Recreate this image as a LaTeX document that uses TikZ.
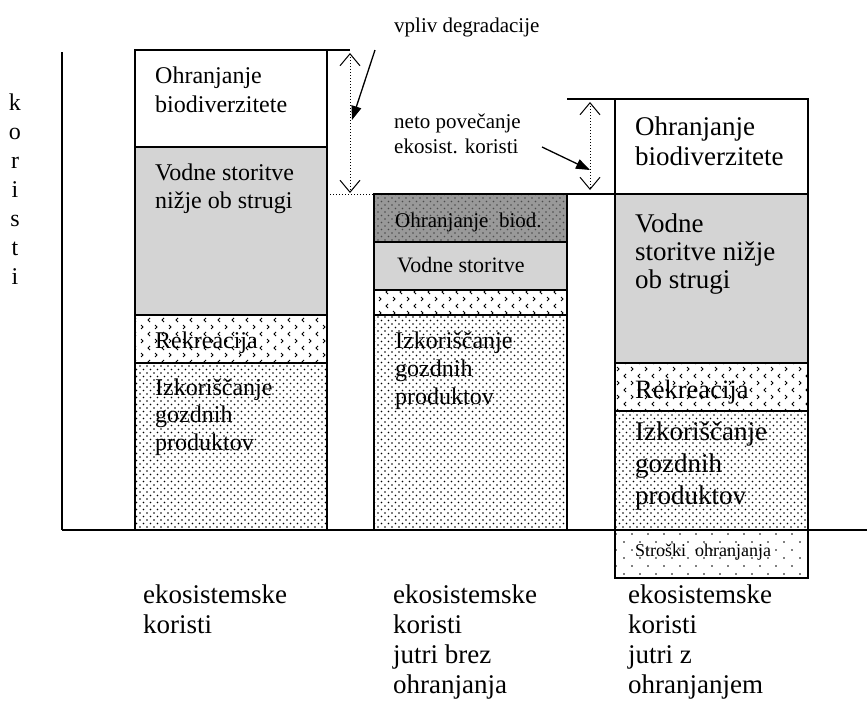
\documentclass[tikz,border=0pt]{standalone}
\usepackage{fontspec}
\setmainfont{Liberation Serif}
\usepackage{tikz}
\usetikzlibrary{arrows.meta,patterns}

\pgfdeclarepatternformonly{gozdpike}{\pgfqpoint{-1pt}{-1pt}}{\pgfqpoint{8pt}{8pt}}{\pgfqpoint{7pt}{7pt}}%
{\pgfpathcircle{\pgfqpoint{0pt}{0pt}}{0.8pt}\pgfpathcircle{\pgfqpoint{3.5pt}{3.5pt}}{0.8pt}\pgfusepath{fill}}
\pgfdeclarepatternformonly{redkepike}{\pgfqpoint{-1pt}{-1pt}}{\pgfqpoint{17pt}{17pt}}{\pgfqpoint{16pt}{16pt}}%
{\pgfpathcircle{\pgfqpoint{0pt}{0pt}}{0.8pt}\pgfpathcircle{\pgfqpoint{8pt}{8pt}}{0.8pt}\pgfusepath{fill}}
\pgfdeclarepatternformonly{rekznaki}{\pgfqpoint{-1pt}{-1pt}}{\pgfqpoint{15pt}{15pt}}{\pgfqpoint{14pt}{14pt}}%
{\pgfsetlinewidth{0.9pt}%
\pgfpathmoveto{\pgfqpoint{1pt}{13pt}}\pgfpathlineto{\pgfqpoint{3pt}{11pt}}\pgfpathlineto{\pgfqpoint{1pt}{9pt}}%
\pgfpathmoveto{\pgfqpoint{10pt}{6pt}}\pgfpathlineto{\pgfqpoint{8pt}{4pt}}\pgfpathlineto{\pgfqpoint{10pt}{2pt}}%
\pgfusepath{stroke}}

\begin{document}
\begin{tikzpicture}[x=1pt, y=-1pt,
  celica/.style={draw, line width=1.5pt},
  sivo/.style={celica, fill=black!17},
  temno/.style={celica, preaction={fill=black!40}, pattern=gozdpike, pattern color=black!70},
  pike/.style={celica, pattern=gozdpike},
  znaki/.style={celica, pattern=rekznaki},
  redko/.style={celica, pattern=redkepike},
  besedilo/.style={anchor=base west, inner sep=0pt, align=left, font=\fontsize{24}{28}\selectfont},
  vecje/.style={besedilo, font=\fontsize{27}{30}\selectfont},
  opis/.style={besedilo, font=\fontsize{21}{25}\selectfont},
  dvojna/.style={dotted, line width=1pt, {Straight Barb[length=12pt,width=20pt,line width=1pt]}-{Straight Barb[length=12pt,width=20pt,line width=1pt]}},
  kazalec/.style={line width=1.3pt, -{Triangle[length=14pt,width=10pt]}}]
\useasboundingbox (0,0) rectangle (867,702);

% osi
\draw [line width=1.5pt] (62,52) -- (62,530);
\draw [line width=1.5pt] (62,530) -- (867,530);
\foreach \crka [count=\i] in {k,o,r,i,s,t,i}
  \node [besedilo, anchor=base] (crka\i) at (15,81+29*\i) {\crka};

% danes (base = zadnja vrstica)
\draw [celica] (135,50) rectangle (327,147);
\draw [sivo] (135,147) rectangle (327,315);
\draw [znaki] (135,315) rectangle (327,363);
\draw [pike] (135,363) rectangle (327,530);
\draw [line width=1.5pt] (327,50) -- (350,50);
\node [besedilo, font=\fontsize{24}{29}\selectfont] (bio1) at (155,112) {Ohranjanje\\biodiverzitete};
\node [besedilo] (vod1) at (155,208) {Vodne storitve\\nižje ob strugi};
\node [besedilo] (rek1) at (155,348) {Rekreacija};
\node [besedilo, font=\fontsize{24}{27.5}\selectfont] (izk1) at (155,450) {Izkoriščanje\\gozdnih\\produktov};

% jutri brez ohranjanja
\draw [temno] (374,194) rectangle (567,242);
\draw [sivo] (374,242) rectangle (567,290);
\draw [znaki] (374,290) rectangle (567,315);
\draw [pike] (374,315) rectangle (567,530);
\draw [dotted, line width=1pt] (327,194) -- (374,194);
\node [opis] (bio2) at (395,227) {Ohranjanje\ \ biod.};
\node [besedilo, font=\fontsize{22}{26}\selectfont] (vod2) at (397,272) {Vodne storitve};
\node [besedilo] (izk2) at (395,404) {Izkoriščanje\\gozdnih\\produktov};

% jutri z ohranjanjem
\draw [celica] (615,99) rectangle (808,194);
\draw [sivo] (615,194) rectangle (808,363);
\draw [znaki] (615,363) rectangle (808,411);
\draw [pike] (615,411) rectangle (808,530);
\draw [redko] (615,530) rectangle (808,578);
\draw [line width=1.5pt] (567,99) -- (615,99);
\draw [line width=1.5pt] (567,194) -- (615,194);
\node [vecje] (bio3) at (635,165) {Ohranjanje\\biodiverzitete};
\node [vecje, font=\fontsize{27}{28}\selectfont] (vod3) at (635,288) {Vodne\\storitve nižje\\ob strugi};
\node [besedilo, font=\fontsize{26.5}{30}\selectfont] (rek3) at (635,398) {Rekreacija};
\node [vecje, font=\fontsize{27}{32}\selectfont] (izk3) at (635,504) {Izkoriščanje\\gozdnih\\produktov};
\node [besedilo, font=\fontsize{18}{22}\selectfont] (str3) at (635,556) {Stroški\ \ ohranjanja};

% razlike
\coordinate (deg1) at (350,53);
\coordinate (deg2) at (350,193);
\coordinate (neto1) at (590,102);
\coordinate (neto2) at (590,190);
\draw [dvojna] (deg1) -- (deg2);
\draw [dvojna] (neto1) -- (neto2);
\node [opis] (vpliv) at (394,32) {vpliv degradacije};
\node [opis] (neto) at (394,153) {neto povečanje\\ekosist. koristi};
\coordinate (vplivz) at (375,50);
\coordinate (vplivk) at (352,120);
\coordinate (netoz) at (542,147);
\coordinate (netok) at (590,170);
\draw [kazalec] (vplivz) -- (vplivk);
\draw [kazalec] (netoz) -- (netok);

% spodaj
\node [vecje] (opis1) at (143,633) {ekosistemske\\koristi};
\node [vecje] (opis2) at (393,693) {ekosistemske\\koristi\\jutri brez\\ohranjanja};
\node [vecje] (opis3) at (628,693) {ekosistemske\\koristi\\jutri z\\ohranjanjem};
\end{tikzpicture}
\end{document}
